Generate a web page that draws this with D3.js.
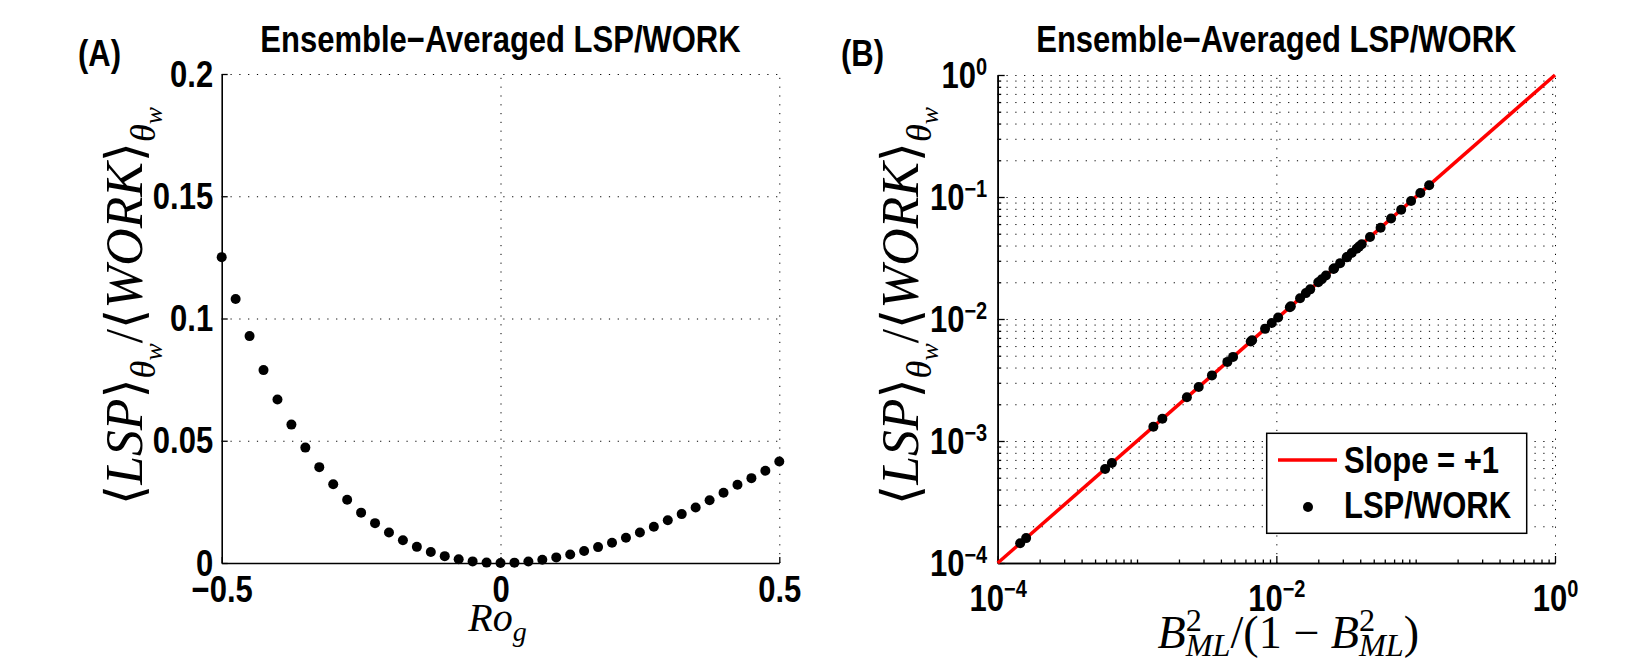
<!DOCTYPE html>
<html><head><meta charset="utf-8">
<script src="https://cdn.jsdelivr.net/npm/d3@7"></script>
<style>body{margin:0;background:#fff} svg{display:block}</style>
</head><body>
<svg id="c" width="1633" height="663"></svg>
<script>
// ---------------- DATA ----------------
const panelTitle = "Ensemble\u2212Averaged LSP/WORK";
const rogValues = [-0.500,-0.475,-0.450,-0.425,-0.400,-0.375,-0.350,-0.325,-0.300,-0.275,
  -0.250,-0.225,-0.200,-0.175,-0.150,-0.125,-0.100,-0.075,-0.050,-0.025,
  0.000,0.025,0.050,0.075,0.100,0.125,0.150,0.175,0.200,0.225,
  0.250,0.275,0.300,0.325,0.350,0.375,0.400,0.425,0.450,0.475,0.500];
const lspWorkA = [0.1251,0.1080,0.0928,0.0789,0.0669,0.0566,0.0472,0.0392,0.0322,0.0259,
  0.0206,0.0163,0.0125,0.0093,0.0066,0.0045,0.0028,0.0015,0.00066,0.00016,
  0.0000,0.000145,0.00059,0.0013,0.0023,0.0035,0.0049,0.0065,0.0083,0.0103,
  0.0125,0.0148,0.0175,0.0200,0.0227,0.0257,0.0287,0.0320,0.0347,0.0377,0.0415];
const ticksAx = [-0.5, 0, 0.5];
const tickLabelsAx = ["\u22120.5", "0", "0.5"];
const ticksAy = [0, 0.05, 0.1, 0.15, 0.2];
const tickLabelsAy = ["0", "0.05", "0.1", "0.15", "0.2"];

const bRatio = [1.45e-4,1.6e-4,5.9e-4,6.6e-4,1.31e-3,1.52e-3,2.28e-3,2.77e-3,3.45e-3,4.45e-3,
  4.89e-3,6.55e-3,6.7e-3,8.3e-3,9.27e-3,1.03e-2,1.25e-2,1.27e-2,1.48e-2,1.63e-2,
  1.75e-2,2.0e-2,2.12e-2,2.27e-2,2.57e-2,2.6e-2,2.87e-2,3.2e-2,3.22e-2,3.47e-2,
  3.77e-2,3.92e-2,4.1e-2,4.7e-2,5.6e-2,6.66e-2,7.87e-2,9.27e-2,1.08e-1,1.25e-1];
const bLspWork = [1.45e-4,1.6e-4,5.9e-4,6.6e-4,1.31e-3,1.52e-3,2.28e-3,2.77e-3,3.45e-3,4.45e-3,
  4.89e-3,6.55e-3,6.7e-3,8.3e-3,9.27e-3,1.03e-2,1.25e-2,1.27e-2,1.48e-2,1.63e-2,
  1.75e-2,2.0e-2,2.12e-2,2.27e-2,2.57e-2,2.6e-2,2.87e-2,3.2e-2,3.22e-2,3.47e-2,
  3.77e-2,3.92e-2,4.1e-2,4.7e-2,5.6e-2,6.66e-2,7.87e-2,9.27e-2,1.08e-1,1.25e-1];
const slopeLineX = [1e-4, 1];
const slopeLineY = [1e-4, 1];
const ticksBx = [1e-4, 1e-2, 1];
const tickExpBx = ["\u22124", "\u22122", "0"];
const ticksBy = [1e-4, 1e-3, 1e-2, 1e-1, 1];
const tickExpBy = ["\u22124", "\u22123", "\u22122", "\u22121", "0"];
const legendLabels = ["Slope = +1", "LSP/WORK"];

// ---------------- SETUP ----------------
const svg = d3.select("#c");
const SANS = "'Liberation Sans', Arial, Helvetica, sans-serif";
const SERIF = "'Liberation Serif', 'DejaVu Serif', serif";
const BRK = "'DejaVu Serif', 'DejaVu Sans', serif";
const FS = 31;
const SY = 1.2;
const DOT = "1.2,7.6";

const A = {l: 221.7, r: 779.3, t: 74, b: 563};
const B = {l: 997.7, r: 1555, t: 75, b: 563};

const xA = d3.scaleLinear().domain([-0.5, 0.5]).range([A.l, A.r]);
const yA = d3.scaleLinear().domain([0, 0.2]).range([A.b, A.t]);
const xB = d3.scaleLog().domain([1e-4, 1]).range([B.l, B.r]);
const yB = d3.scaleLog().domain([1e-4, 1]).range([B.b, B.t]);

function stretch(sel) {
  sel.each(function() {
    const t = d3.select(this);
    const x = +t.attr("x") || 0, y = +t.attr("y") || 0;
    t.attr("x", 0).attr("y", 0).attr("dy", null)
      .attr("transform", `translate(${x},${y}) scale(1,${SY})`);
  });
}
function gridStyle(g) {
  g.select(".domain").remove();
  g.selectAll("line").attr("stroke", "#000").attr("stroke-width", 1).attr("stroke-dasharray", DOT);
}
function axisStyle(g) {
  g.select(".domain").attr("stroke", "#000").attr("stroke-width", 1.6);
  g.selectAll(".tick line").attr("stroke", "#000").attr("stroke-width", 1.3);
  g.selectAll(".tick text").attr("font-family", SANS).attr("font-weight", "bold")
    .attr("font-size", FS).attr("fill", "#000");
}
function boldText(parent, x, y, s, anchor) {
  return parent.append("text").attr("x", x).attr("y", y).attr("text-anchor", anchor || "start")
    .attr("font-family", SANS).attr("font-weight", "bold").attr("font-size", FS).attr("fill", "#000")
    .text(s).call(stretch);
}

// ---------------- PANEL A ----------------
const gA = svg.append("g");
gA.append("g").attr("transform", `translate(0,${A.b})`)
  .call(d3.axisBottom(xA).tickValues(ticksAx.slice(1)).tickSize(-(A.b - A.t)).tickFormat(""))
  .call(gridStyle);
gA.append("g").attr("transform", `translate(${A.l},0)`)
  .call(d3.axisLeft(yA).tickValues(ticksAy.slice(1)).tickSize(-(A.r - A.l)).tickFormat(""))
  .call(gridStyle);
gA.append("g").attr("transform", `translate(${A.l},0)`)
  .call(d3.axisLeft(yA).tickValues(ticksAy).tickFormat((d, i) => tickLabelsAy[i])
    .tickSizeInner(-6).tickSizeOuter(0).tickPadding(8.5))
  .call(axisStyle)
  .call(g => g.selectAll(".tick text").attr("y", 12).call(stretch));
gA.append("g").attr("transform", `translate(0,${A.b})`)
  .call(d3.axisBottom(xA).tickValues(ticksAx).tickFormat((d, i) => tickLabelsAx[i])
    .tickSizeInner(-6).tickSizeOuter(0).tickPadding(17))
  .call(axisStyle)
  .call(g => g.selectAll(".tick text").attr("y", 39).call(stretch));
gA.append("g").selectAll("circle").data(rogValues).join("circle")
  .attr("cx", d => xA(d)).attr("cy", (d, i) => yA(lspWorkA[i])).attr("r", 5).attr("fill", "#000");

// ---------------- PANEL B ----------------
const gB = svg.append("g");
const minorY = yB.ticks().filter(v => Math.abs(Math.log10(v) - Math.round(Math.log10(v))) > 1e-6);
const minorX = xB.ticks().filter(v => !ticksBx.some(t => Math.abs(t - v) / v < 1e-6));
gB.append("g").attr("transform", `translate(0,${B.b})`)
  .call(d3.axisBottom(xB).tickValues(ticksBx.slice(1)).tickSize(-(B.b - B.t)).tickFormat(""))
  .call(gridStyle);
gB.append("g").attr("transform", `translate(${B.l},0)`)
  .call(d3.axisLeft(yB).tickValues(ticksBy.slice(1).concat(minorY)).tickSize(-(B.r - B.l)).tickFormat(""))
  .call(gridStyle);
gB.append("g").attr("transform", `translate(${B.l},0)`)
  .call(d3.axisLeft(yB).tickValues(minorY).tickSizeInner(-3.5).tickSizeOuter(0).tickFormat(""))
  .call(axisStyle);
gB.append("g").attr("transform", `translate(0,${B.b})`)
  .call(d3.axisBottom(xB).tickValues(minorX).tickSizeInner(-3.5).tickSizeOuter(0).tickFormat(""))
  .call(axisStyle);
const yAxB = gB.append("g").attr("transform", `translate(${B.l},0)`)
  .call(d3.axisLeft(yB).tickValues(ticksBy).tickSizeInner(-7).tickSizeOuter(0).tickFormat(""))
  .call(axisStyle);
yAxB.selectAll(".tick").each(function(d, i) {
  const t = d3.select(this).append("text").attr("x", -10.5).attr("y", 12.5)
    .attr("text-anchor", "end").attr("font-family", SANS).attr("font-weight", "bold").attr("fill", "#000");
  t.append("tspan").attr("font-size", FS).text("10");
  t.append("tspan").attr("font-size", 20).attr("dy", -10.6).text(tickExpBy[i]);
  t.call(stretch);
});
const xAxB = gB.append("g").attr("transform", `translate(0,${B.b})`)
  .call(d3.axisBottom(xB).tickValues(ticksBx).tickSizeInner(-7).tickSizeOuter(0).tickFormat(""))
  .call(axisStyle);
xAxB.selectAll(".tick").each(function(d, i) {
  const t = d3.select(this).append("text").attr("x", 0).attr("y", 48)
    .attr("text-anchor", "middle").attr("font-family", SANS).attr("font-weight", "bold").attr("fill", "#000");
  t.append("tspan").attr("font-size", FS).text("10");
  t.append("tspan").attr("font-size", 20).attr("dy", -11.5).text(tickExpBx[i]);
  t.call(stretch);
});
gB.append("path").datum(slopeLineX.map((x, i) => [x, slopeLineY[i]]))
  .attr("d", d3.line().x(d => xB(d[0])).y(d => yB(d[1])))
  .attr("stroke", "#ff0000").attr("stroke-width", 3.5).attr("fill", "none");
gB.append("g").selectAll("circle").data(bRatio).join("circle")
  .attr("cx", d => xB(d)).attr("cy", (d, i) => yB(bLspWork[i])).attr("r", 5).attr("fill", "#000");

// legend
const lg = gB.append("g");
lg.append("rect").attr("x", 1266.7).attr("y", 433.3).attr("width", 260).attr("height", 100)
  .attr("fill", "#fff").attr("stroke", "#000").attr("stroke-width", 1.5);
lg.append("line").attr("x1", 1278).attr("x2", 1337).attr("y1", 460).attr("y2", 460)
  .attr("stroke", "#ff0000").attr("stroke-width", 3.5);
lg.append("circle").attr("cx", 1308).attr("cy", 507).attr("r", 5).attr("fill", "#000");
legendLabels.forEach((s, i) => boldText(lg, 1344, i === 0 ? 473 : 518, s));

// ---------------- TEXT ----------------
[[A, "(A)", 78], [B, "(B)", 841]].forEach(([P, lab, lx]) => {
  boldText(svg, (P.l + P.r) / 2, 52, panelTitle, "middle");
  boldText(svg, lx, 66, lab);
});

function mathText(parent, parts, f, transform, anchor) {
  const t = parent.append("text").attr("transform", transform).attr("text-anchor", anchor)
    .attr("font-family", SERIF).attr("fill", "#000");
  parts.forEach(p => {
    const s = t.append("tspan").attr("font-size", f * (p.fs || 1))
      .attr("font-style", p.it ? "italic" : "normal").text(p.s);
    if (p.br) s.attr("font-family", BRK);
    if (p.dy) s.attr("dy", p.dy * f);
    if (p.dx) s.attr("dx", p.dx * f);
  });
  return t;
}
function fitted(parent, parts, f0, target, transform, anchor) {
  const tmp = mathText(parent, parts, f0, transform, anchor);
  const w = tmp.node().getComputedTextLength();
  tmp.remove();
  return mathText(parent, parts, f0 * target / w, transform, anchor);
}
const yLabParts = [
  {s: "\u27E8", br: true}, {s: "LSP", it: true}, {s: "\u27E9", br: true},
  {s: "\u03B8", it: true, fs: 0.7, dy: 0.25}, {s: "w", it: true, fs: 0.5, dy: 0.15},
  {s: "/", dy: -0.40}, {s: "\u27E8", br: true}, {s: "WORK", it: true}, {s: "\u27E9", br: true},
  {s: "\u03B8", it: true, fs: 0.7, dy: 0.25}, {s: "w", it: true, fs: 0.5, dy: 0.15}
];
[A, B].forEach(P => {
  fitted(svg, yLabParts, 40, 398, `translate(${P.l - 80},306) rotate(-90)`, "middle");
});
mathText(svg, [{s: "Ro", it: true}, {s: "g", it: true, fs: 0.7, dy: 0.25}], 40,
  `translate(${(A.l + A.r) / 2 - 3},631)`, "middle");
const xLabB = [
  {s: "B", it: true}, {s: "2", fs: 0.7, dy: -0.36}, {s: "ML", it: true, fs: 0.7, dx: -0.35, dy: 0.54},
  {s: "/(1 \u2212 ", dy: -0.18}, {s: "B", it: true}, {s: "2", fs: 0.7, dy: -0.36},
  {s: "ML", it: true, fs: 0.7, dx: -0.35, dy: 0.54}, {s: ")", dy: -0.18}
];
fitted(svg, xLabB, 36, 294, `translate(${(B.l + B.r) / 2 + 12},648)`, "middle");
</script>
</body></html>
